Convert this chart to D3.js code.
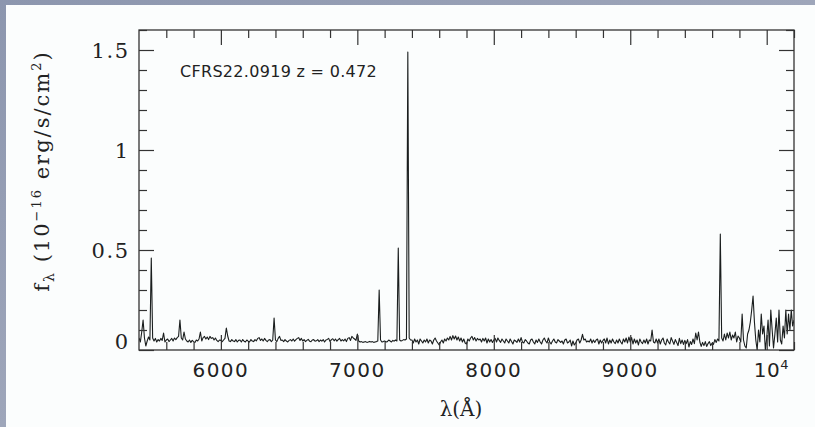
<!DOCTYPE html>
<html>
<head>
<meta charset="utf-8">
<script src="https://cdn.jsdelivr.net/npm/d3@7"></script>
<style>
  html, body { margin: 0; padding: 0; background: #8f99b1; }
  svg { display: block; }
</style>
</head>
<body>
<svg id="chart" width="815" height="427"></svg>
<script>
// Spectrum of CFRS22.0919 (z = 0.472), sampled every 10 Å from 5400 Å.
const lambdaStart = 5400;
const lambdaStep = 10;
const flux = [
  0.06, 0.04, 0.09, 0.15, 0.06, 0.02, 0.045, 0.065, 0.05, 0.46,          // 5400
  0.06, 0.045, 0.058, 0.04, 0.052, 0.045, 0.058, 0.048, 0.085, 0.04,     // 5500
  0.05, 0.055, 0.042, 0.05, 0.058, 0.045, 0.06, 0.052, 0.062, 0.068,     // 5600
  0.15, 0.06, 0.05, 0.09, 0.055, 0.045, 0.04, 0.05, 0.038, 0.048,        // 5700
  0.042, 0.038, 0.05, 0.045, 0.055, 0.09, 0.045, 0.062, 0.068, 0.055,    // 5800
  0.065, 0.052, 0.068, 0.058, 0.062, 0.05, 0.06, 0.048, 0.042, 0.05,     // 5900
  0.048, 0.042, 0.05, 0.058, 0.11, 0.07, 0.045, 0.042, 0.052, 0.045,     // 6000
  0.042, 0.052, 0.04, 0.048, 0.05, 0.04, 0.052, 0.044, 0.04, 0.05,       // 6100
  0.044, 0.04, 0.052, 0.045, 0.042, 0.052, 0.046, 0.058, 0.062, 0.048,   // 6200
  0.055, 0.045, 0.058, 0.048, 0.042, 0.05, 0.052, 0.042, 0.05, 0.16,     // 6300
  0.05, 0.042, 0.058, 0.068, 0.048, 0.05, 0.042, 0.052, 0.045, 0.04,     // 6400
  0.048, 0.052, 0.045, 0.055, 0.044, 0.052, 0.058, 0.062, 0.048, 0.058,  // 6500
  0.045, 0.052, 0.042, 0.048, 0.053, 0.044, 0.042, 0.05, 0.052, 0.044,   // 6600
  0.046, 0.052, 0.042, 0.05, 0.044, 0.052, 0.04, 0.05, 0.053, 0.058,     // 6700
  0.042, 0.052, 0.056, 0.046, 0.055, 0.044, 0.052, 0.058, 0.045, 0.052,  // 6800
  0.046, 0.055, 0.042, 0.058, 0.062, 0.048, 0.068, 0.06, 0.055, 0.048,   // 6900
  0.08, 0.045, 0.04, 0.042, 0.038, 0.04, 0.042, 0.038, 0.04, 0.043,      // 7000
  0.04, 0.042, 0.038, 0.04, 0.042, 0.045, 0.30, 0.05, 0.04, 0.042,       // 7100
  0.045, 0.04, 0.042, 0.05, 0.045, 0.04, 0.048, 0.044, 0.05, 0.045,      // 7200
  0.51, 0.05, 0.045, 0.048, 0.052, 0.05, 0.055, 1.49, 0.06, 0.05,        // 7300
  0.05, 0.035, 0.055, 0.04, 0.05, 0.03, 0.055, 0.045, 0.035, 0.05,       // 7400
  0.04, 0.055, 0.035, 0.05, 0.045, 0.03, 0.05, 0.06, 0.045, 0.035,       // 7500
  0.025, 0.04, 0.05, 0.035, 0.055, 0.045, 0.06, 0.05, 0.068, 0.05,       // 7600
  0.072, 0.055, 0.07, 0.05, 0.065, 0.045, 0.06, 0.04, 0.055, 0.035,      // 7700
  0.03, 0.055, 0.045, 0.06, 0.068, 0.05, 0.062, 0.045, 0.058, 0.05,      // 7800
  0.055, 0.04, 0.058, 0.045, 0.06, 0.035, 0.055, 0.04, 0.052, 0.038,     // 7900
  0.05, 0.058, 0.04, 0.06, 0.048, 0.038, 0.055, 0.045, 0.035, 0.055,     // 8000
  0.045, 0.035, 0.055, 0.042, 0.03, 0.05, 0.045, 0.038, 0.055, 0.04,     // 8100
  0.062, 0.04, 0.035, 0.052, 0.045, 0.035, 0.03, 0.05, 0.055, 0.04,      // 8200
  0.03, 0.05, 0.038, 0.055, 0.04, 0.03, 0.05, 0.06, 0.045, 0.035,        // 8300
  0.06, 0.04, 0.03, 0.045, 0.055, 0.04, 0.035, 0.052, 0.045, 0.038,      // 8400
  0.045, 0.03, 0.05, 0.055, 0.035, 0.04, 0.05, 0.02, 0.045, 0.025,       // 8500
  0.035, 0.05, 0.055, 0.035, 0.05, 0.078, 0.05, 0.055, 0.04, 0.045,      // 8600
  0.04, 0.055, 0.035, 0.05, 0.038, 0.05, 0.055, 0.03, 0.05, 0.035,       // 8700
  0.048, 0.055, 0.035, 0.06, 0.03, 0.05, 0.035, 0.055, 0.04, 0.032,      // 8800
  0.05, 0.035, 0.055, 0.04, 0.03, 0.055, 0.04, 0.06, 0.035, 0.065,       // 8900
  0.04, 0.062, 0.03, 0.055, 0.035, 0.05, 0.025, 0.055, 0.04, 0.032,      // 9000
  0.05, 0.035, 0.055, 0.03, 0.05, 0.045, 0.10, 0.04, 0.035, 0.055,       // 9100
  0.035, 0.055, 0.03, 0.05, 0.06, 0.035, 0.025, 0.055, 0.04, 0.03,       // 9200
  0.062, 0.045, 0.028, 0.052, 0.038, 0.022, 0.058, 0.032, 0.05, 0.028,   // 9300
  0.048, 0.032, 0.052, 0.015, 0.042, 0.028, 0.055, 0.032, 0.085, 0.05,   // 9400
  0.09, 0.04, 0.018, 0.038, 0.022, 0.042, 0.018, 0.032, 0.042, 0.022,    // 9500
  0.035, 0.028, 0.052, 0.038, 0.055, 0.045, 0.58, 0.06, 0.045, 0.08,     // 9600
  0.05, 0.085, 0.06, 0.09, 0.05, 0.075, 0.06, 0.09, 0.04, 0.07,          // 9700
  0.06, 0.04, 0.18, 0.05, 0.02, 0.01, 0.08, 0.1, 0.14, 0.2,              // 9800
  0.27, 0.14, 0.05, 0.0, 0.1, 0.04, 0.18, 0.08, 0.12, 0.0,               // 9900
  0.06, 0.15, 0.02, 0.2, 0.1, 0.01, 0.08, 0.16, 0.04, 0.2,               // 10000
  0.05, 0.03, 0.12, 0.06, 0.2, 0.08, 0.18, 0.1, 0.2, 0.12,               // 10100
  0.15                                                                   // 10200
];

// Axis ranges and ticks
const xDomain = [5400, 10200];
const yDomain = [0, 1.6];
const xMajorTicks = [6000, 7000, 8000, 9000, 10000];
const xMajorLabels = ["6000", "7000", "8000", "9000", "10^4"];
const xMinorTicks = [5600, 5800, 6200, 6400, 6600, 6800, 7200, 7400, 7600, 7800,
                     8200, 8400, 8600, 8800, 9200, 9400, 9600, 9800, 10200];
const yMajorTicks = [0, 0.5, 1, 1.5];
const yMajorLabels = ["0", "0.5", "1", "1.5"];
const yMinorTicks = [0.1, 0.2, 0.3, 0.4, 0.6, 0.7, 0.8, 0.9, 1.1, 1.2, 1.3, 1.4, 1.6];

const objectLabel = "CFRS22.0919 z = 0.472";

const spectrum = flux.map((f, i) => ({ lambda: lambdaStart + i * lambdaStep, f }));

const svg = d3.select("#chart");
const W = 815, H = 427;

// Backdrop and white panel
const defs = svg.append("defs");
const bg = defs.append("linearGradient").attr("id", "bg")
  .attr("x1", "0").attr("y1", "0").attr("x2", "1").attr("y2", "1");
bg.append("stop").attr("offset", "0").attr("stop-color", "#8c96ae");
bg.append("stop").attr("offset", "0.5").attr("stop-color", "#9ea6ba");
bg.append("stop").attr("offset", "1").attr("stop-color", "#8790a9");
svg.append("rect").attr("width", W).attr("height", H).attr("fill", "url(#bg)");
svg.append("rect").attr("x", 6).attr("y", 5).attr("width", W - 6).attr("height", H - 5)
  .attr("fill", "#fbfdfd");

const plot = { left: 139, right: 794, top: 30, bottom: 350 };
const x = d3.scaleLinear().domain(xDomain).range([plot.left, plot.right]);
const y = d3.scaleLinear().domain(yDomain).range([plot.bottom, plot.top]);

defs.append("clipPath").attr("id", "clip")
  .append("rect").attr("x", plot.left).attr("y", plot.top)
  .attr("width", plot.right - plot.left).attr("height", plot.bottom - plot.top);

// Spectrum
svg.append("path")
  .datum(spectrum)
  .attr("clip-path", "url(#clip)")
  .attr("fill", "none")
  .attr("stroke", "#1a1e1e")
  .attr("stroke-width", 1.1)
  .attr("stroke-linejoin", "round")
  .attr("d", d3.line().x(d => x(d.lambda)).y(d => y(d.f)));

// Inward ticks on all four sides
const tickColor = "#333";
function ticks(axisFn, scale, values, size, tx, ty) {
  const g = svg.append("g")
    .attr("transform", `translate(${tx},${ty})`)
    .call(axisFn(scale).tickValues(values).tickSize(size).tickFormat(""));
  g.select(".domain").remove();
  g.selectAll("line").attr("stroke", tickColor).attr("stroke-width", 1.2);
}
const MAJ = 15, MIN = 8;
ticks(d3.axisBottom, x, xMajorTicks, -MAJ, 0, plot.bottom);
ticks(d3.axisBottom, x, xMinorTicks, -MIN, 0, plot.bottom);
ticks(d3.axisTop, x, xMajorTicks, -MAJ, 0, plot.top);
ticks(d3.axisTop, x, xMinorTicks, -MIN, 0, plot.top);
ticks(d3.axisLeft, y, yMajorTicks, -MAJ, plot.left, 0);
ticks(d3.axisLeft, y, yMinorTicks, -MIN, plot.left, 0);
ticks(d3.axisRight, y, yMajorTicks, -MAJ, plot.right, 0);
ticks(d3.axisRight, y, yMinorTicks, -MIN, plot.right, 0);

// Frame
svg.append("rect")
  .attr("x", plot.left).attr("y", plot.top)
  .attr("width", plot.right - plot.left).attr("height", plot.bottom - plot.top)
  .attr("fill", "none").attr("stroke", tickColor).attr("stroke-width", 1.3);

const textColor = "#222";

// x tick labels (a "^" marks an exponent)
xMajorTicks.forEach((v, i) => {
  const parts = xMajorLabels[i].split("^");
  const t = svg.append("text")
    .attr("x", x(v)).attr("y", 377)
    .attr("font-family", "DejaVu Sans").attr("font-size", 20)
    .attr("letter-spacing", parts.length > 1 ? 0.5 : 1.5)
    .attr("fill", textColor);
  if (parts.length > 1) {
    t.attr("x", x(v) - 13);
    t.append("tspan").text(parts[0]);
    t.append("tspan").attr("dy", -8).attr("font-size", 13).text(parts[1]);
  } else {
    t.attr("text-anchor", "middle").text(parts[0]);
  }
});

// y tick labels, kept inside the frame's vertical extent
yMajorTicks.forEach((v, i) => {
  const cy = Math.min(y(v), plot.bottom - 9);
  svg.append("text")
    .attr("x", 129.5).attr("y", cy + 7.5)
    .attr("text-anchor", "end")
    .attr("font-family", "DejaVu Serif").attr("font-size", 21)
    .attr("letter-spacing", 1.5)
    .attr("fill", textColor)
    .text(yMajorLabels[i]);
});

// x title
svg.append("text")
  .attr("x", 461).attr("y", 416)
  .attr("text-anchor", "middle")
  .attr("font-family", "DejaVu Serif").attr("font-size", 20)
  .attr("fill", textColor)
  .text("λ(Å)");

// y title
const yt = svg.append("text")
  .attr("transform", "translate(49,171) rotate(-90)")
  .attr("text-anchor", "middle")
  .attr("font-family", "DejaVu Serif").attr("font-size", 21)
  .attr("letter-spacing", 2)
  .attr("fill", textColor);
yt.append("tspan").text("f");
yt.append("tspan").attr("dy", 5).attr("font-size", 14).text("λ");
yt.append("tspan").attr("dy", -5).text(" (10");
yt.append("tspan").attr("dy", -8).attr("font-size", 13).text("−16");
yt.append("tspan").attr("dy", 8).text(" erg/s/cm");
yt.append("tspan").attr("dy", -8).attr("font-size", 13).text("2");
yt.append("tspan").attr("dy", 8).text(")");

// Object annotation
svg.append("text")
  .attr("x", 180).attr("y", 77)
  .attr("font-family", "DejaVu Sans").attr("font-size", 16)
  .attr("letter-spacing", 0.3)
  .attr("fill", textColor)
  .text(objectLabel);
</script>
</body>
</html>
